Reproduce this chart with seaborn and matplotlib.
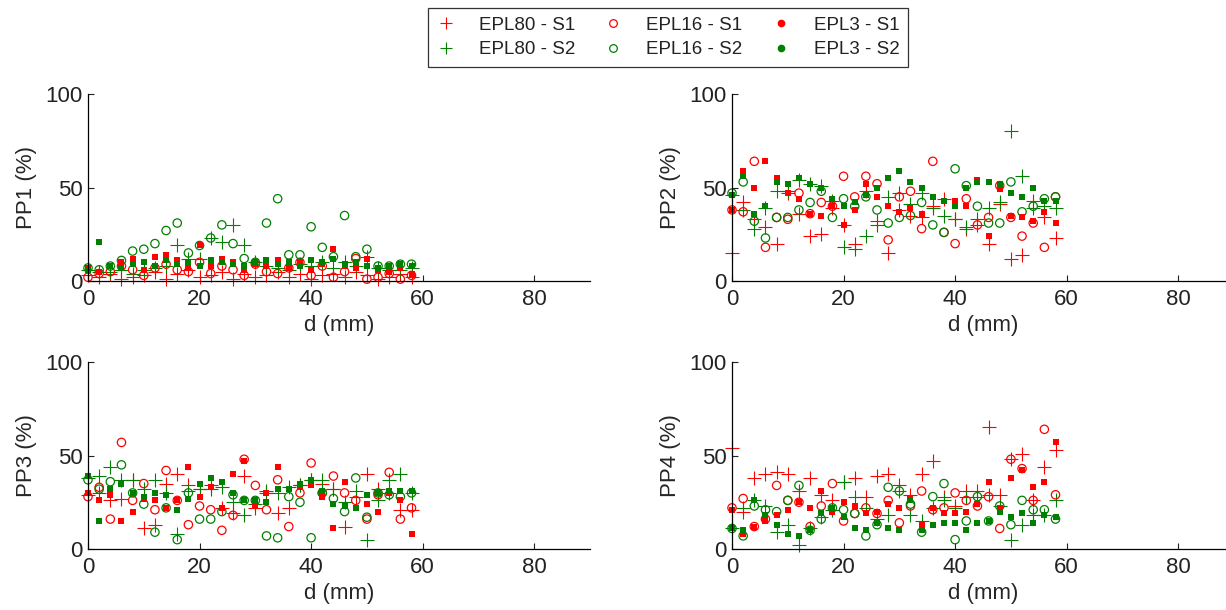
import numpy as np
import pandas as pd
import matplotlib
matplotlib.use('Agg')
import matplotlib.pyplot as plt
from matplotlib.lines import Line2D
import seaborn as sns

# distance along the sample, 0..58 mm every 2 mm
d_mm = np.arange(0, 60, 2)

# PP1
pp1_epl80_s1 = [3, 2, 4, 1, 2, 3, 5, 1, 4, 6, 2, 3, 5, 1, 4, 2, 3, 5, 2, 4, 1, 3, 4, 2, 5, 3, 1, 2, 4, 2]
pp1_epl80_s2 = [6, 5, 5, 6, 4, 6, 7, 8, 19, 12, 12, 23, 21, 30, 19, 10, 8, 7, 6, 9, 8, 10, 7, 10, 8, 13, 7, 6, 6, 7]
pp1_epl16_s1 = [2, 4, 5, 8, 6, 3, 7, 9, 6, 5, 10, 4, 8, 6, 3, 9, 5, 4, 7, 10, 3, 8, 2, 5, 12, 1, 2, 4, 1, 3]
pp1_epl16_s2 = [7, 6, 8, 11, 16, 17, 20, 27, 31, 15, 19, 23, 30, 20, 12, 10, 31, 44, 14, 14, 29, 18, 13, 35, 13, 17, 8, 8, 9, 9]
pp1_epl3_s1 = [7, 5, 8, 10, 12, 6, 13, 14, 11, 7, 19, 8, 12, 10, 6, 9, 8, 11, 7, 10, 6, 9, 17, 8, 7, 12, 6, 5, 7, 4]
pp1_epl3_s2 = [6, 21, 8, 7, 9, 10, 8, 11, 9, 10, 8, 11, 10, 9, 8, 10, 11, 9, 10, 8, 11, 10, 12, 9, 10, 8, 7, 8, 9, 8]

# PP2
pp2_epl80_s1 = [15, 42, 33, 29, 20, 47, 36, 24, 25, 39, 30, 20, 48, 32, 15, 38, 35, 34, 40, 44, 33, 28, 30, 20, 41, 12, 14, 43, 34, 23]
pp2_epl80_s2 = [46, 38, 28, 39, 48, 48, 54, 52, 51, 43, 18, 17, 24, 30, 45, 47, 41, 47, 39, 35, 33, 29, 33, 39, 42, 80, 56, 39, 40, 39]
pp2_epl16_s1 = [38, 37, 64, 18, 34, 33, 47, 36, 42, 40, 56, 45, 56, 52, 22, 45, 48, 28, 64, 26, 20, 44, 30, 34, 51, 34, 24, 31, 18, 45]
pp2_epl16_s2 = [47, 53, 32, 23, 34, 34, 38, 42, 48, 34, 44, 40, 45, 38, 31, 34, 35, 42, 30, 26, 60, 51, 40, 31, 31, 53, 37, 40, 44, 45]
pp2_epl3_s1 = [38, 59, 50, 64, 55, 47, 44, 36, 35, 40, 30, 38, 52, 45, 40, 37, 39, 36, 45, 43, 43, 40, 54, 24, 49, 35, 34, 32, 37, 31]
pp2_epl3_s2 = [46, 56, 36, 40, 53, 52, 55, 52, 50, 44, 40, 42, 46, 50, 55, 59, 53, 50, 45, 43, 40, 50, 53, 53, 52, 47, 45, 50, 43, 43]

# PP3
pp3_epl80_s1 = [29, 30, 26, 27, 37, 11, 13, 35, 40, 34, 32, 34, 22, 19, 39, 22, 30, 19, 22, 34, 37, 35, 32, 12, 28, 40, 32, 30, 21, 21]
pp3_epl80_s2 = [38, 39, 44, 37, 37, 32, 37, 30, 8, 31, 32, 32, 33, 25, 18, 24, 31, 30, 33, 34, 37, 37, 32, 25, 31, 5, 26, 37, 40, 30]
pp3_epl16_s1 = [28, 33, 16, 57, 26, 35, 21, 42, 26, 13, 23, 21, 10, 18, 48, 34, 21, 37, 12, 30, 46, 30, 39, 30, 26, 16, 29, 41, 16, 22]
pp3_epl16_s2 = [37, 32, 36, 45, 30, 24, 9, 22, 5, 30, 16, 16, 20, 29, 26, 26, 7, 6, 28, 25, 6, 30, 27, 20, 38, 17, 30, 29, 28, 30]
pp3_epl3_s1 = [30, 26, 29, 15, 20, 27, 26, 22, 26, 44, 28, 33, 22, 40, 47, 23, 30, 44, 32, 33, 34, 28, 11, 36, 22, 24, 20, 30, 26, 8]
pp3_epl3_s2 = [39, 15, 32, 35, 30, 28, 30, 29, 21, 27, 35, 38, 36, 30, 26, 26, 25, 32, 32, 35, 37, 31, 24, 23, 22, 29, 30, 31, 31, 31]

# PP4
pp4_epl80_s1 = [54, 20, 38, 40, 41, 40, 31, 38, 29, 26, 36, 38, 28, 39, 40, 34, 29, 40, 47, 28, 23, 31, 31, 65, 29, 48, 51, 26, 44, 53]
pp4_epl80_s2 = [11, 22, 26, 23, 9, 13, 2, 11, 17, 21, 36, 28, 22, 16, 18, 31, 18, 15, 22, 26, 22, 28, 28, 29, 23, 5, 13, 18, 18, 26]
pp4_epl16_s1 = [22, 27, 12, 16, 34, 26, 25, 12, 23, 35, 15, 19, 22, 19, 26, 14, 23, 31, 21, 22, 30, 26, 23, 28, 11, 48, 43, 26, 64, 29]
pp4_epl16_s2 = [11, 7, 23, 21, 20, 26, 34, 10, 16, 22, 21, 19, 7, 13, 33, 31, 24, 9, 28, 35, 5, 15, 28, 15, 23, 13, 26, 21, 21, 16]
pp4_epl3_s1 = [21, 8, 12, 15, 18, 21, 25, 22, 31, 20, 25, 23, 19, 20, 24, 22, 27, 13, 22, 19, 19, 20, 24, 36, 22, 38, 42, 33, 36, 57]
pp4_epl3_s2 = [11, 10, 26, 18, 13, 8, 7, 10, 19, 22, 17, 11, 10, 14, 11, 10, 26, 10, 13, 14, 14, 10, 14, 15, 20, 17, 19, 14, 18, 17]

series_names = ['EPL80 - S1', 'EPL80 - S2', 'EPL16 - S1', 'EPL16 - S2', 'EPL3 - S1', 'EPL3 - S2']
panels = {
    'PP1': [pp1_epl80_s1, pp1_epl80_s2, pp1_epl16_s1, pp1_epl16_s2, pp1_epl3_s1, pp1_epl3_s2],
    'PP2': [pp2_epl80_s1, pp2_epl80_s2, pp2_epl16_s1, pp2_epl16_s2, pp2_epl3_s1, pp2_epl3_s2],
    'PP3': [pp3_epl80_s1, pp3_epl80_s2, pp3_epl16_s1, pp3_epl16_s2, pp3_epl3_s1, pp3_epl3_s2],
    'PP4': [pp4_epl80_s1, pp4_epl80_s2, pp4_epl16_s1, pp4_epl16_s2, pp4_epl3_s1, pp4_epl3_s2],
}

RED = '#ff0000'
GREEN = '#008000'
colors = [RED, GREEN] * 3
styles = {
    'EPL80 - S1': dict(marker='+', color=RED, s=100, linewidth=0.8),
    'EPL80 - S2': dict(marker='+', color=GREEN, s=100, linewidth=0.8),
    'EPL16 - S1': dict(marker='o', facecolors='none', edgecolor=RED, s=36, linewidth=0.9),
    'EPL16 - S2': dict(marker='o', facecolors='none', edgecolor=GREEN, s=36, linewidth=0.9),
    'EPL3 - S1': dict(marker='s', color=RED, s=15, linewidth=0),
    'EPL3 - S2': dict(marker='s', color=GREEN, s=15, linewidth=0),
}

sns.set_style('ticks')
plt.rcParams['font.family'] = ['Liberation Sans', 'DejaVu Sans']
plt.rcParams['font.size'] = 16

fig = plt.figure(figsize=(12.26, 6.10), dpi=100)
W, H = 1226, 610
# axes boxes in pixels: left, top (y=100), right (x=90), bottom (y=0)
boxes = {
    'PP1': (88, 94, 590, 281),
    'PP2': (732, 94, 1234, 281),
    'PP3': (88, 362, 590, 549),
    'PP4': (732, 362, 1234, 549),
}

for name, (l, t, r, b) in boxes.items():
    ax = fig.add_axes([l / W, 1 - b / H, (r - l) / W, (b - t) / H])
    for sname, yvals in zip(series_names, panels[name]):
        df = pd.DataFrame({'d': d_mm, 'pp': yvals})
        sns.scatterplot(data=df, x='d', y='pp', ax=ax, legend=False,
                        clip_on=False, **styles[sname])
    ax.set_xlim(0, 90)
    ax.set_ylim(0, 100)
    ax.set_xticks([0, 20, 40, 60, 80])
    ax.set_yticks([0, 50, 100])
    ax.set_xlabel('d (mm)', fontsize=16, labelpad=3)
    ax.set_ylabel(f'{name} (%)', fontsize=16, labelpad=6)
    ax.tick_params(direction='in', length=4, width=0.8, labelsize=16, colors='#222222', pad=4)
    ax.tick_params(axis='x', pad=6)
    sns.despine(ax=ax)
    for sp in ('left', 'bottom'):
        ax.spines[sp].set_linewidth(0.9)
        ax.spines[sp].set_color('black')

# legend handles drawn like the markers of each series
leg_handles = [
    Line2D([], [], linestyle='none', marker='+', color=RED, markersize=9, markeredgewidth=0.8),
    Line2D([], [], linestyle='none', marker='+', color=GREEN, markersize=9, markeredgewidth=0.8),
    Line2D([], [], linestyle='none', marker='o', markerfacecolor='none', markeredgecolor=RED, markersize=5.5, markeredgewidth=0.9),
    Line2D([], [], linestyle='none', marker='o', markerfacecolor='none', markeredgecolor=GREEN, markersize=5.5, markeredgewidth=0.9),
    Line2D([], [], linestyle='none', marker='o', color=RED, markersize=4.5),
    Line2D([], [], linestyle='none', marker='o', color=GREEN, markersize=4.5),
]
leg = fig.legend(leg_handles, series_names, ncol=3,
                 loc='upper left', bbox_to_anchor=(428 / W, 1 - 8 / H), borderaxespad=0,
                 frameon=True, fancybox=False, edgecolor='black', fontsize=13.5,
                 handlelength=1.0, handletextpad=1.25, columnspacing=1.55,
                 borderpad=0.45, labelspacing=0.4)
leg.get_frame().set_linewidth(0.9)
for txt in leg.get_texts():
    txt.set_color('#222222')

fig.savefig('out.png', dpi=100, facecolor='white')
